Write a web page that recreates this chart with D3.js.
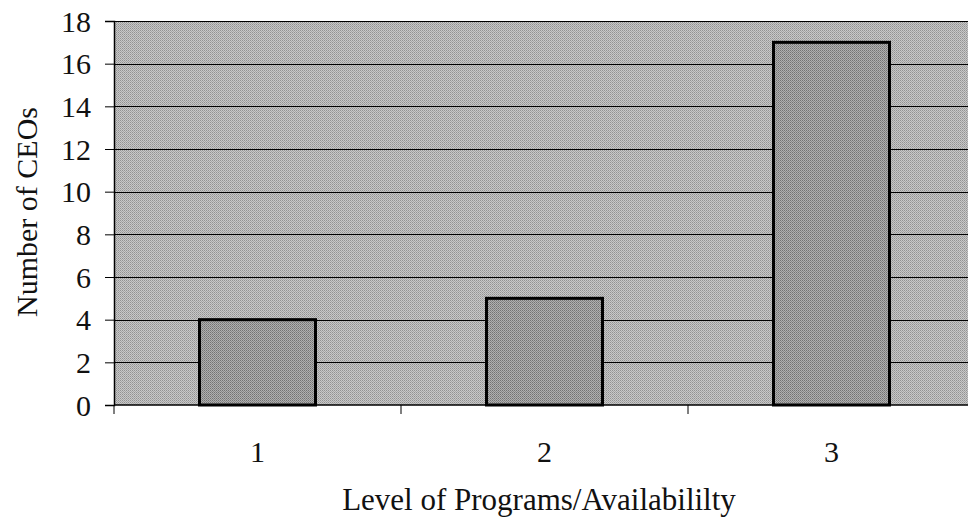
<!DOCTYPE html>
<html>
<head>
<meta charset="utf-8">
<script src="https://cdn.jsdelivr.net/npm/d3@7"></script>
<style>
  body { margin: 0; background: #fff; }
  svg text { font-family: 'Liberation Serif', 'DejaVu Serif', serif; fill: #111; }
</style>
</head>
<body>
<script>
const categories = ['1', '2', '3'];
const values = [4, 5, 17];
const yTicks = [0, 2, 4, 6, 8, 10, 12, 14, 16, 18];

const w = 968;
const h = 526;
const plotLeft = 114;
const plotTop = 21;
const plotBottom = 405;
const bandW = 287;

const svg = d3.select('body').append('svg').attr('width', w).attr('height', h);

// halftone-ish textures
const defs = svg.append('defs');
const bgPat = defs.append('pattern').attr('id', 'bg').attr('width', 2).attr('height', 2)
  .attr('patternUnits', 'userSpaceOnUse');
bgPat.append('rect').attr('width', 2).attr('height', 2).attr('fill', '#c8c8c8');
bgPat.append('rect').attr('width', 1).attr('height', 1).attr('fill', '#929292');
bgPat.append('rect').attr('x', 1).attr('y', 1).attr('width', 1).attr('height', 1).attr('fill', '#a6a6a6');

const barPat = defs.append('pattern').attr('id', 'bar').attr('width', 2).attr('height', 2)
  .attr('patternUnits', 'userSpaceOnUse');
barPat.append('rect').attr('width', 2).attr('height', 2).attr('fill', '#b0b0b0');
barPat.append('rect').attr('width', 1).attr('height', 1).attr('fill', '#737373');
barPat.append('rect').attr('x', 1).attr('y', 1).attr('width', 1).attr('height', 1).attr('fill', '#888');

const x = d3.scaleBand().domain(categories).range([plotLeft, plotLeft + bandW * 3]).paddingInner(0).paddingOuter(0);
const y = d3.scaleLinear().domain([0, 18]).range([plotBottom, plotTop]);

// plot background
svg.append('rect')
  .attr('x', plotLeft).attr('y', plotTop)
  .attr('width', w - plotLeft).attr('height', plotBottom - plotTop)
  .attr('fill', 'url(#bg)');

// gridlines
svg.append('g')
  .selectAll('line')
  .data(yTicks.filter(d => d > 0))
  .enter()
  .append('line')
  .attr('x1', plotLeft).attr('x2', w)
  .attr('y1', d => Math.round(y(d)) + 0.5).attr('y2', d => Math.round(y(d)) + 0.5)
  .attr('stroke', '#000').attr('stroke-width', 1);

// bars
const barW = 116;
svg.append('g')
  .selectAll('rect')
  .data(values)
  .enter()
  .append('rect')
  .attr('x', (d, i) => x(categories[i]) + x.bandwidth() / 2 - barW / 2)
  .attr('y', d => y(d))
  .attr('width', barW)
  .attr('height', d => plotBottom - y(d))
  .attr('fill', 'url(#bar)')
  .attr('stroke', '#000')
  .attr('stroke-width', 3);

// y axis
const yAxis = d3.axisLeft(y).tickValues(yTicks).tickSize(9).tickPadding(14);
const gy = svg.append('g').attr('transform', 'translate(' + plotLeft + ',0)').call(yAxis);
gy.attr('font-size', null).attr('font-family', null);
gy.select('.domain').attr('stroke', '#000').attr('stroke-width', 1.5);
gy.selectAll('.tick line').attr('stroke', '#000');
gy.selectAll('.tick text').style('font-size', '30px').attr('fill', '#111').attr('dy', '0.34em');

// x axis: ticks at band edges, labels at centers
const gx = svg.append('g').attr('transform', 'translate(0,' + plotBottom + ')');
gx.append('line').attr('x1', plotLeft).attr('x2', w).attr('stroke', '#000').attr('stroke-width', 1.5);
gx.selectAll('.edge')
  .data(categories)
  .enter()
  .append('line')
  .attr('class', 'edge')
  .attr('x1', d => x(d)).attr('x2', d => x(d))
  .attr('y1', 0).attr('y2', 9)
  .attr('stroke', '#000');
gx.selectAll('text')
  .data(categories)
  .enter()
  .append('text')
  .attr('x', d => x(d) + x.bandwidth() / 2)
  .attr('y', 57)
  .attr('text-anchor', 'middle')
  .style('font-size', '30px')
  .text(d => d);

// axis titles
svg.append('text')
  .attr('x', 539).attr('y', 510)
  .attr('text-anchor', 'middle')
  .style('font-size', '31px')
  .text('Level of Programs/Availabililty');

svg.append('text')
  .attr('transform', 'translate(37,212) rotate(-90)')
  .attr('text-anchor', 'middle')
  .style('font-size', '30px')
  .text('Number of CEOs');
</script>
</body>
</html>
